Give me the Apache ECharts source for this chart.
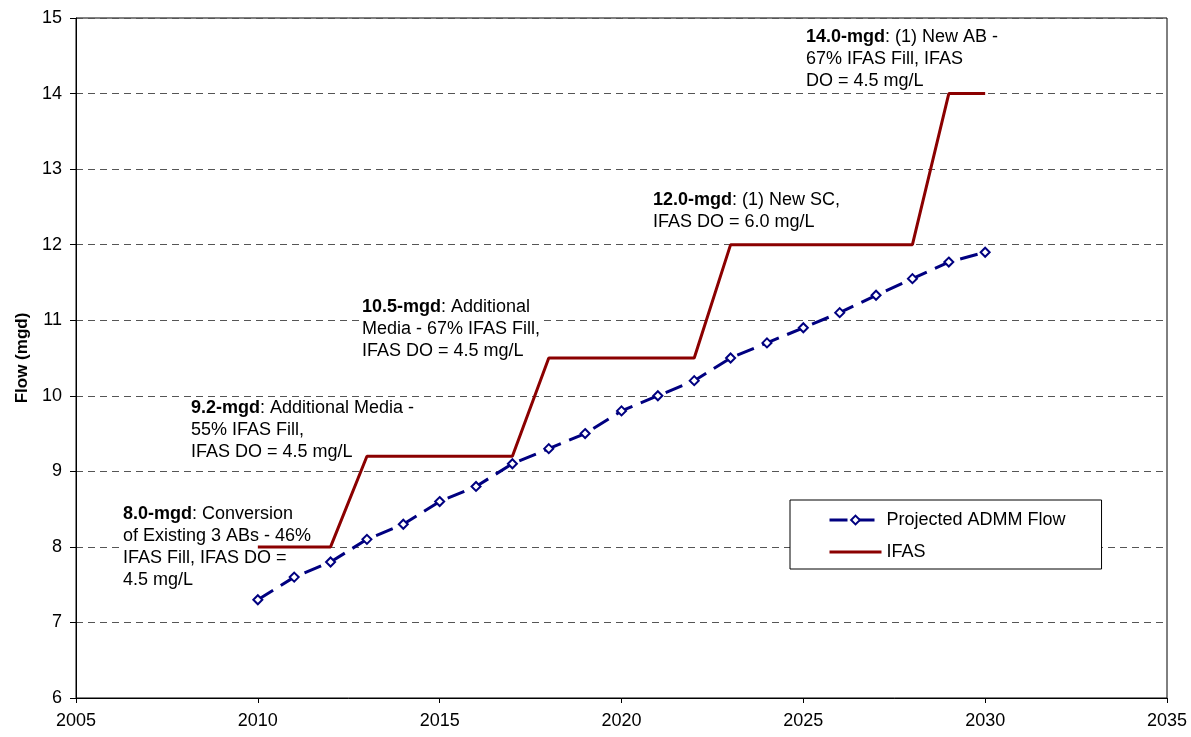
<!DOCTYPE html>
<html>
<head>
<meta charset="utf-8">
<script src="https://cdn.jsdelivr.net/npm/echarts@6/dist/echarts.min.js"></script>
<style>
  html, body { margin: 0; padding: 0; background: #fff; }
  #chart { width: 1191px; height: 737px; }
</style>
</head>
<body>
<div id="chart"></div>
<script>
// projected flow, one point a year
var flowYears = [2010, 2011, 2012, 2013, 2014, 2015, 2016, 2017, 2018, 2019, 2020,
                 2021, 2022, 2023, 2024, 2025, 2026, 2027, 2028, 2029, 2030];
var flowValues = [7.3, 7.6, 7.8, 8.1, 8.3, 8.6, 8.8, 9.1, 9.3, 9.5, 9.8,
                  10.0, 10.2, 10.5, 10.7, 10.9, 11.1, 11.33, 11.55, 11.77, 11.9];

// IFAS capacity steps
var ifasYears = [2010, 2012, 2013, 2017, 2018, 2022, 2023, 2028, 2029, 2030];
var ifasValues = [8.0, 8.0, 9.2, 9.2, 10.5, 10.5, 12.0, 12.0, 14.0, 14.0];

var seriesNames = ['Projected ADMM Flow', 'IFAS'];

var notes = [
    '{b|8.0-mgd}: Conversion\nof Existing 3 ABs - 46%\nIFAS Fill, IFAS DO =\n4.5 mg/L',
    '{b|9.2-mgd}: Additional Media -\n55% IFAS Fill,\nIFAS DO = 4.5 mg/L',
    '{b|10.5-mgd}: Additional\nMedia - 67% IFAS Fill,\nIFAS DO = 4.5 mg/L',
    '{b|12.0-mgd}: (1) New SC,\nIFAS DO = 6.0 mg/L',
    '{b|14.0-mgd}: (1) New AB -\n67% IFAS Fill, IFAS\nDO = 4.5 mg/L'
];
var notePos = [[123, 503], [191, 397], [362, 296], [653, 189], [806, 26]];

function pairs(xs, ys) {
    var out = [];
    for (var i = 0; i < xs.length; i++) out.push([xs[i], ys[i]]);
    return out;
}

var font = 'Liberation Sans, Arial, sans-serif';

var graphics = [];
for (var i = 0; i < notes.length; i++) {
    graphics.push({
        type: 'text',
        left: notePos[i][0],
        top: notePos[i][1],
        z: 1,
        style: {
            text: notes[i],
            fontSize: 18,
            fontFamily: font,
            lineHeight: 22,
            fill: '#000',
            backgroundColor: '#fff',
            rich: {
                b: { fontWeight: 'bold', fontSize: 18, fontFamily: font, lineHeight: 22, fill: '#000' }
            }
        }
    });
}

var chart = echarts.init(document.getElementById('chart'));
var option = {
    animation: false,
    grid: {
        left: 76, right: 24, top: 18, bottom: 39,
        show: true, borderColor: '#000', borderWidth: 1
    },
    legend: {
        orient: 'vertical',
        left: 790, top: 500,
        padding: [11, 36, 8, 38],
        itemGap: 14,
        itemWidth: 52,
        itemHeight: 11,
        backgroundColor: '#fff',
        borderColor: '#000',
        borderWidth: 1,
        borderRadius: 0,
        lineStyle: { width: 3 },
        textStyle: { fontSize: 18, fontFamily: font, color: '#000' },
        data: [
            { name: seriesNames[0] },
            { name: seriesNames[1], itemStyle: { opacity: 0 } }
        ]
    },
    xAxis: {
        type: 'value',
        min: 2005, max: 2035, interval: 5,
        axisLine: { lineStyle: { color: '#000', width: 1 } },
        axisTick: { show: true, length: 5, lineStyle: { color: '#000' } },
        axisLabel: {
            fontSize: 18, fontFamily: font, color: '#000', margin: 14,
            formatter: function (v) { return String(v); }
        },
        splitLine: { show: false }
    },
    yAxis: {
        type: 'value',
        min: 6, max: 15, interval: 1,
        name: 'Flow (mgd)',
        nameLocation: 'middle',
        nameGap: 45,
        nameTextStyle: { fontSize: 17, fontWeight: 'bold', fontFamily: font, color: '#000' },
        axisLine: { show: true, lineStyle: { color: '#000', width: 1 } },
        axisTick: { show: true, length: 6, lineStyle: { color: '#000' } },
        axisLabel: { fontSize: 18, fontFamily: font, color: '#000', margin: 14 },
        splitLine: { show: true, lineStyle: { color: '#555', type: [7, 5], width: 1 } }
    },
    graphic: graphics,
    series: [
        {
            name: seriesNames[0],
            type: 'line',
            data: pairs(flowYears, flowValues),
            symbol: 'diamond',
            symbolSize: 9,
            itemStyle: { color: '#fff', borderColor: '#000080', borderWidth: 2 },
            lineStyle: { color: '#000080', width: 3, type: [18, 9] },
            z: 3
        },
        {
            name: seriesNames[1],
            type: 'line',
            data: pairs(ifasYears, ifasValues),
            symbol: 'none',
            itemStyle: { color: '#8b0000' },
            lineStyle: { color: '#8b0000', width: 3 },
            z: 2
        }
    ]
};
chart.setOption(option);
</script>
</body>
</html>
